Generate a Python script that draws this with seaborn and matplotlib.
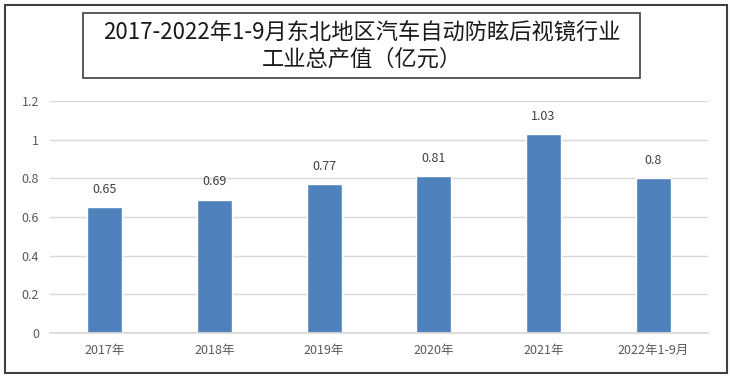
import matplotlib
matplotlib.use("Agg")
import matplotlib.pyplot as plt
import seaborn as sns
import pandas as pd
from matplotlib.patches import Rectangle

categories = ["2017年", "2018年", "2019年", "2020年", "2021年", "2022年1-9月"]
values = [0.65, 0.69, 0.77, 0.81, 1.03, 0.8]
value_labels = ["0.65", "0.69", "0.77", "0.81", "1.03", "0.8"]
yticks = [0, 0.2, 0.4, 0.6, 0.8, 1.0, 1.2]
ytick_labels = ["0", "0.2", "0.4", "0.6", "0.8", "1", "1.2"]
title = "2017-2022年1-9月东北地区汽车自动防眩后视镜行业\n工业总产值（亿元）"

sns.set_theme(style="white")
plt.rcParams['font.family'] = ['Noto Sans CJK SC', 'DejaVu Sans']

df = pd.DataFrame({"cat": categories, "val": values})

fig = plt.figure(figsize=(7.3, 3.79), dpi=100)
ax = fig.add_axes([50/730, 1-333/379, 658/730, (333-101)/379])

sns.barplot(data=df, x="cat", y="val", color="#4F81BD", saturation=1, width=0.32, ax=ax)

ax.set_ylim(0, 1.2)
ax.set_xlim(-0.5, len(categories)-0.5)
ax.set_yticks(yticks)
ax.set_yticklabels(ytick_labels)
ax.yaxis.grid(True, color="#D9D9D9", linewidth=1)
ax.set_axisbelow(True)
for s in ["top", "right", "left"]:
    ax.spines[s].set_visible(False)
ax.spines["bottom"].set_color("#D9D9D9")
ax.tick_params(axis="both", length=0, labelsize=9, colors="#595959", pad=8)
ax.set_xlabel("")
ax.set_ylabel("")

for i, (v, lab) in enumerate(zip(values, value_labels)):
    ax.annotate(lab, (i, v), xytext=(0, 8), textcoords="offset points",
                ha="center", va="bottom", fontsize=9, color="#404040")

# outer border
fig.patches.append(Rectangle((5/730, 1-373/379), 722/730, 368/379, transform=fig.transFigure,
                             fill=False, edgecolor="#404040", linewidth=1.5))
# title box
fig.patches.append(Rectangle((83/730, 1-78/379), 557/730, 65/379, transform=fig.transFigure,
                             fill=False, edgecolor="#404040", linewidth=1.2))
fig.text(361.5/730, 1-46.5/379, title, ha="center", va="center", fontsize=16,
         color="#1a1a1a", linespacing=1.15)

fig.savefig("out.png", dpi=100)
